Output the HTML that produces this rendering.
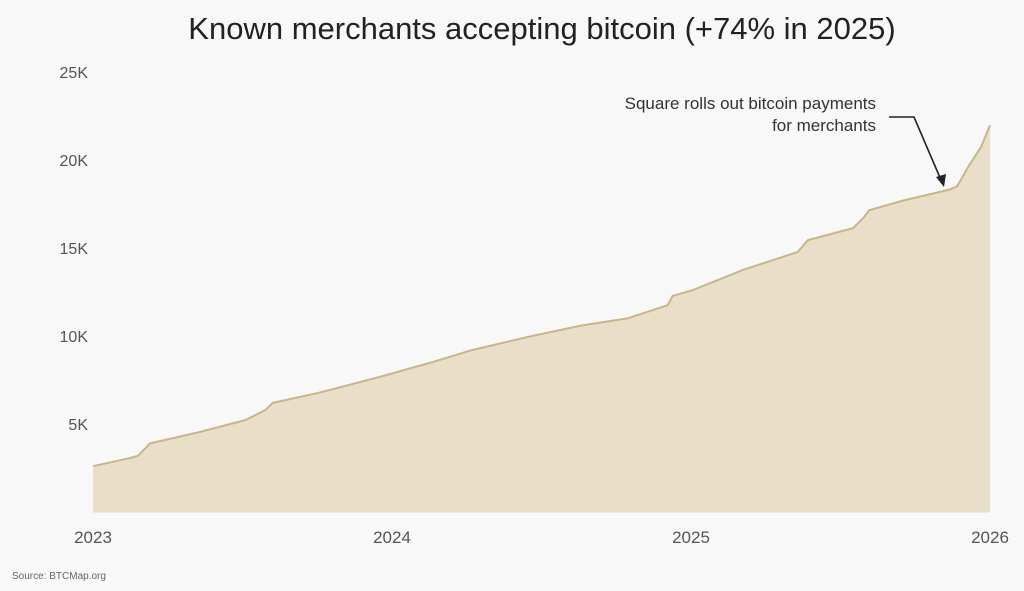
<!DOCTYPE html>
<html><head><meta charset="utf-8"><style>
html,body{margin:0;padding:0;background:#f8f8f8;width:1024px;height:591px;overflow:hidden}
svg{display:block;font-family:"Liberation Sans",sans-serif}
</style></head><body>
<svg id="chart" width="1024" height="591">
<rect width="1024" height="591" fill="#f8f8f8"/>
<text x="542" y="39" text-anchor="middle" font-size="31" fill="#222">Known merchants accepting bitcoin (+74% in 2025)</text>
<g id="yaxis"></g>
<g id="xaxis"></g>
<g id="plot"></g>
<text x="12" y="579" font-size="10" fill="#666">Source: BTCMap.org</text>
<g>
<text x="876" y="109" text-anchor="end" font-size="17" fill="#333">Square rolls out bitcoin payments</text>
<text x="876" y="131" text-anchor="end" font-size="17" fill="#333">for merchants</text>
<polyline points="889,117 914,117 941,180" fill="none" stroke="#222" stroke-width="1.6"/>
<polygon points="944,187 936,177 946,174" fill="#222"/>
</g>
</svg>
<script>
const dates=[2023.0,2023.124,2023.151,2023.191,2023.359,2023.510,2023.577,2023.601,2023.762,2023.964,2024.132,2024.267,2024.468,2024.636,2024.787,2024.922,2024.938,2025.005,2025.173,2025.357,2025.391,2025.542,2025.576,2025.596,2025.710,2025.861,2025.89,2025.93,2025.97,2026.0];
const merchants=[2600,3070,3200,3900,4550,5230,5800,6200,6800,7700,8500,9200,10000,10600,11000,11750,12270,12600,13750,14770,15450,16130,16700,17150,17700,18300,18500,19700,20730,21980];
const yTicks=[5000,10000,15000,20000,25000];
const yTickLabels=["5K","10K","15K","20K","25K"];
const xTicks=[2023,2024,2025,2026];
const xTickLabels=["2023","2024","2025","2026"];
const NS="http://www.w3.org/2000/svg";
const x0=93,x1=990,y0=512,ymaxPx=72;
function xs(v){return x0+(v-2023)/3*(x1-x0);}
function ys(v){return y0-(v/25000)*(y0-ymaxPx);}
function mk(tag,attrs,parent){const e=document.createElementNS(NS,tag);for(const k in attrs)e.setAttribute(k,attrs[k]);parent.appendChild(e);return e;}
const ya=document.getElementById('yaxis'),xa=document.getElementById('xaxis'),pl=document.getElementById('plot');
yTicks.forEach((t,i)=>{
 const tx=mk('text',{x:88,y:ys(t)+6,'text-anchor':'end','font-size':16,fill:'#555'},ya);
 
 
 tx.textContent=yTickLabels[i];
});
xTicks.forEach((t,i)=>{
 const tx=mk('text',{x:xs(t),y:543,'text-anchor':'middle','font-size':17,fill:'#555'},xa);
 
 
 tx.textContent=xTickLabels[i];
});
let pts=dates.map((d,i)=>xs(d).toFixed(1)+','+ys(merchants[i]).toFixed(1));
const area=mk('polygon',{points:xs(dates[0])+','+y0+' '+pts.join(' ')+' '+xs(dates[dates.length-1])+','+y0,fill:'#e9dfc9'},pl);


const line=mk('polyline',{points:pts.join(' '),fill:'none',stroke:'#c7b68c','stroke-width':2,'stroke-linejoin':'round'},pl);


const base=mk('line',{x1:x0,x2:x1,y1:y0,y2:y0,stroke:'#ddd','stroke-width':1},pl);


</script>
</body></html>
